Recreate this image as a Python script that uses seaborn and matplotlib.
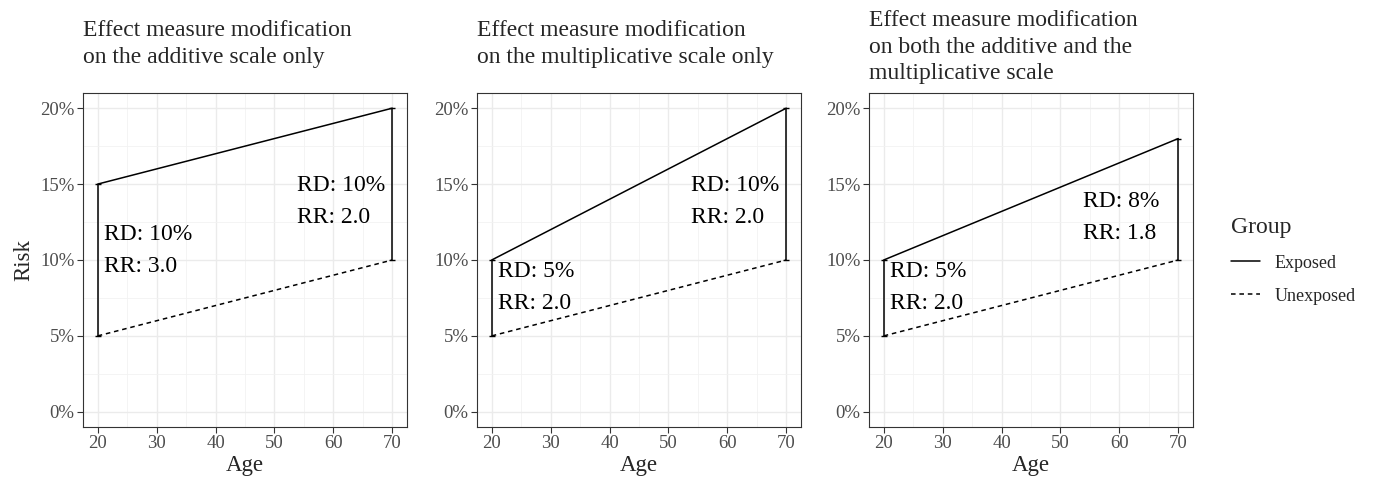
import numpy as np
import pandas as pd
import matplotlib
matplotlib.use("Agg")
import matplotlib.pyplot as plt
import seaborn as sns
from matplotlib.ticker import MultipleLocator, PercentFormatter

# data
ages = [20, 70]
unexposed = [0.05, 0.10]
exposed_p1 = [0.15, 0.20]
exposed_p2 = [0.10, 0.20]
exposed_p3 = [0.10, 0.18]
titles = [
    "Effect measure modification\non the additive scale only",
    "Effect measure modification\non the multiplicative scale only",
    "Effect measure modification\non both the additive and the\nmultiplicative scale",
]
left_labels = ["RD: 10%\nRR: 3.0", "RD: 5%\nRR: 2.0", "RD: 5%\nRR: 2.0"]
right_labels = ["RD: 10%\nRR: 2.0", "RD: 10%\nRR: 2.0", "RD: 8%\nRR: 1.8"]
left_label_y = [0.1060, 0.0817, 0.0817]
right_label_y = [0.1385, 0.1385, 0.1282]

sns.set_theme(style="whitegrid")
plt.rcParams['font.family'] = ['Liberation Serif', 'DejaVu Serif']

fig = plt.figure(figsize=(13.76, 4.83), dpi=100)
lefts = [83, 477, 869]
title_tops = [20, 20, 10]
axes = [fig.add_axes([l / 1376, 1 - 427 / 483, 324 / 1376, 334 / 483]) for l in lefts]

for i, (ax, exp) in enumerate(zip(axes, [exposed_p1, exposed_p2, exposed_p3])):
    df = pd.DataFrame({
        'Age': ages + ages,
        'Risk': exp + unexposed,
        'Group': ['Exposed'] * 2 + ['Unexposed'] * 2,
    })
    sns.lineplot(data=df, x='Age', y='Risk', style='Group', color='black',
                 style_order=['Exposed', 'Unexposed'],
                 dashes={'Exposed': '', 'Unexposed': (3, 2.5)},
                 linewidth=1.1, ax=ax, legend=(i == 0))
    diff = np.array(exp) - np.array(unexposed)
    ax.errorbar(ages, unexposed, yerr=[np.zeros(2), diff], fmt='none',
                ecolor='black', elinewidth=1.1, capsize=2, capthick=1.0)
    ax.text(21.0, left_label_y[i], left_labels[i], ha='left', va='center',
            fontsize=17, linespacing=1.7, color='black')
    ax.text(53.8, right_label_y[i], right_labels[i], ha='left', va='center',
            fontsize=17, linespacing=1.7, color='black')

    ax.set_xlim(17.5, 72.5)
    ax.set_ylim(-0.01, 0.21)
    ax.xaxis.set_major_locator(MultipleLocator(10))
    ax.xaxis.set_minor_locator(MultipleLocator(5))
    ax.yaxis.set_major_locator(MultipleLocator(0.05))
    ax.yaxis.set_minor_locator(MultipleLocator(0.025))
    ax.yaxis.set_major_formatter(PercentFormatter(xmax=1, decimals=0))
    ax.grid(which='major', color='#EBEBEB', linewidth=1.0)
    ax.grid(which='minor', color='#F2F2F2', linewidth=0.6)
    ax.tick_params(which='major', length=4, width=0.8, color='#333333',
                   labelsize=13.5, labelcolor='#4D4D4D', pad=2, direction='out')
    ax.tick_params(which='minor', length=0)
    ax.tick_params(bottom=True, left=True)
    for s in ax.spines.values():
        s.set_color('#333333')
        s.set_linewidth(0.8)
    ax.set_xlabel('Age', fontsize=16.5, labelpad=2)
    ax.set_ylabel('Risk' if i == 0 else '', fontsize=16.5, labelpad=4)
    fig.text(lefts[i] / 1376, 1 - title_tops[i] / 483, titles[i], ha='left',
             va='top', fontsize=17, linespacing=1.35)

handles, labels = axes[0].get_legend_handles_labels()
axes[0].get_legend().remove()
leg = fig.legend(handles, labels, title='Group', loc='center left',
                 bbox_to_anchor=(1215 / 1376, 1 - 261 / 483), frameon=False,
                 fontsize=13, title_fontsize=17, handlelength=1.6,
                 alignment='left', labelspacing=0.9)

fig.savefig('out.png', dpi=100)
